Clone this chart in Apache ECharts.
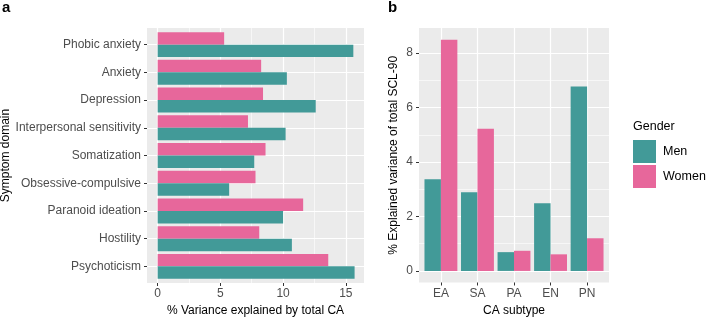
<!DOCTYPE html>
<html>
<head>
<meta charset="utf-8">
<script src="https://cdn.jsdelivr.net/npm/echarts@6/dist/echarts.min.js"></script>
<style>
  html, body { margin: 0; padding: 0; background: #fff; }
  #main { width: 708px; height: 317px; }
</style>
</head>
<body>
<div id="main"></div>
<script>
// panel a: symptom domains
var domains = ['Phobic anxiety', 'Anxiety', 'Depression', 'Interpersonal sensitivity', 'Somatization',
    'Obsessive-compulsive', 'Paranoid ideation', 'Hostility', 'Psychoticism'];
var menA = [15.6, 10.3, 12.6, 10.2, 7.7, 5.7, 10.0, 10.7, 15.7];
var womenA = [5.3, 8.25, 8.4, 7.2, 8.6, 7.8, 11.6, 8.1, 13.6];
var ticksA = [0, 5, 10, 15];
var minorA = [2.5, 7.5, 12.5];

// panel b: CA subtypes
var subtypes = ['EA', 'SA', 'PA', 'EN', 'PN'];
var menB = [3.37, 2.89, 0.69, 2.49, 6.78];
var womenB = [8.49, 5.22, 0.74, 0.61, 1.2];
var ticksB = [0, 2, 4, 6, 8];
var minorB = [1, 3, 5, 7];

var MEN = '#429A98', WOMEN = '#E7679B';
var FONT = 'Liberation Sans, Arial, sans-serif';

var myChart = echarts.init(document.getElementById('main'));

var domainIdx = domains.map(function (d, i) { return i; });
var subtypeIdx = subtypes.map(function (d, i) { return i; });

var nameStyle = { color: '#000', fontSize: 12, fontFamily: FONT };
var major = { show: true, lineStyle: { color: '#fff', width: 1.2 } };
var minor = { show: true, lineStyle: { color: '#fff', width: 0.6 } };
var noLine = { show: false, onZero: false };

// panel a extents (ggplot-like padding)
var xMinA = -0.85, xMaxA = 16.45;
// panel b extents
var yMinB = -0.425, yMaxB = 8.925;

var option = {
    animation: false,
    textStyle: { fontFamily: FONT },
    title: [
        { text: 'a', left: 2, top: 0, padding: 0, textStyle: { fontSize: 15, fontWeight: 'bold', color: '#000', fontFamily: FONT } },
        { text: 'b', left: 388, top: 0, padding: 0, textStyle: { fontSize: 15, fontWeight: 'bold', color: '#000', fontFamily: FONT } },
        { text: 'Gender', left: 633, top: 120, padding: 0, textStyle: { fontSize: 12.5, fontWeight: 'normal', color: '#000', fontFamily: FONT } }
    ],
    legend: {
        data: ['Men', 'Women'],
        orient: 'vertical',
        left: 633,
        top: 140,
        padding: 0,
        itemWidth: 23,
        itemHeight: 23,
        itemGap: 2,
        icon: 'rect',
        textStyle: { fontSize: 12.5, color: '#000', fontFamily: FONT, padding: [0, 0, 0, 2] }
    },
    grid: [
        // 0: panel a background / axes
        { left: 147, top: 28, width: 217, height: 255, show: true, backgroundColor: '#EBEBEB', borderWidth: 0, outerBoundsMode: 'none' },
        // 1: panel a bars (inset by 0.1 category unit)
        { left: 147, top: 30.77, width: 217, height: 249.46, outerBoundsMode: 'none' },
        // 2: panel b background / axes
        { left: 419, top: 28, width: 190, height: 254.5, show: true, backgroundColor: '#EBEBEB', borderWidth: 0, outerBoundsMode: 'none' },
        // 3: panel b bars
        { left: 422.65, top: 28, width: 182.7, height: 254.5, outerBoundsMode: 'none' }
    ],
    xAxis: [
        { // 0 panel a value axis with labels
            type: 'value', gridIndex: 0, min: xMinA, max: xMaxA,
            axisLine: noLine,
            axisTick: { show: true, length: 3, lineStyle: { color: '#333' }, customValues: ticksA },
            axisLabel: { color: '#4D4D4D', fontSize: 12, fontFamily: FONT, margin: 5, customValues: ticksA },
            splitLine: major,
            name: '% Variance explained by total CA', nameLocation: 'middle', nameGap: 19, nameTextStyle: nameStyle
        },
        { // 1 panel a minor grid
            type: 'value', gridIndex: 0, min: xMinA, max: xMaxA, position: 'top',
            axisLine: noLine,
            axisTick: { show: false, customValues: minorA },
            axisLabel: { show: false, customValues: minorA },
            splitLine: minor
        },
        { // 2 panel a bars value axis
            type: 'value', gridIndex: 1, min: xMinA, max: xMaxA, show: false, splitLine: { show: false }
        },
        { // 3 panel b category positions (value axis for labels and grid)
            type: 'value', gridIndex: 2, min: -0.6, max: subtypes.length - 0.4,
            axisLine: noLine,
            axisTick: { show: true, length: 3, lineStyle: { color: '#333' }, customValues: subtypeIdx },
            axisLabel: {
                color: '#4D4D4D', fontSize: 12, fontFamily: FONT, margin: 5, customValues: subtypeIdx,
                formatter: function (v) { return subtypes[Math.round(v)] || ''; }
            },
            splitLine: major,
            name: 'CA subtype', nameLocation: 'middle', nameGap: 21, nameTextStyle: nameStyle
        },
        { // 4 panel b bars category axis
            type: 'category', gridIndex: 3, data: subtypes, show: false
        }
    ],
    yAxis: [
        { // 0 panel a categories (value axis for labels and grid)
            type: 'value', gridIndex: 0, inverse: true, min: -0.6, max: domains.length - 0.4,
            axisLine: noLine,
            axisTick: { show: true, length: 3, lineStyle: { color: '#333' }, customValues: domainIdx },
            axisLabel: {
                color: '#4D4D4D', fontSize: 12, fontFamily: FONT, margin: 6, customValues: domainIdx,
                formatter: function (v) { return domains[Math.round(v)] || ''; }
            },
            splitLine: major,
            name: 'Symptom domain', nameLocation: 'middle', nameGap: 131, nameTextStyle: nameStyle
        },
        { // 1 panel a bars category axis
            type: 'category', gridIndex: 1, data: domains, inverse: true, show: false
        },
        { // 2 panel b value axis with labels
            type: 'value', gridIndex: 2, min: yMinB, max: yMaxB,
            axisLine: noLine,
            axisTick: { show: true, length: 3, lineStyle: { color: '#333' }, customValues: ticksB },
            axisLabel: { color: '#4D4D4D', fontSize: 12, fontFamily: FONT, margin: 6, customValues: ticksB },
            splitLine: major,
            name: '% Explained variance of total SCL-90', nameLocation: 'middle', nameGap: 19, nameTextStyle: nameStyle
        },
        { // 3 panel b minor grid
            type: 'value', gridIndex: 2, min: yMinB, max: yMaxB, position: 'right',
            axisLine: noLine,
            axisTick: { show: false, customValues: minorB },
            axisLabel: { show: false, customValues: minorB },
            splitLine: minor
        },
        { // 4 panel b bars value axis
            type: 'value', gridIndex: 3, min: yMinB, max: yMaxB, show: false, splitLine: { show: false }
        }
    ],
    series: [
        // women first so that they sit above men in each row
        {
            name: 'Women', type: 'bar', xAxisIndex: 2, yAxisIndex: 1, data: womenA,
            itemStyle: { color: WOMEN }, barGap: '0%', barCategoryGap: '10%'
        },
        {
            name: 'Men', type: 'bar', xAxisIndex: 2, yAxisIndex: 1, data: menA,
            itemStyle: { color: MEN }, barGap: '0%', barCategoryGap: '10%'
        },
        {
            name: 'Men', type: 'bar', xAxisIndex: 4, yAxisIndex: 4, data: menB,
            itemStyle: { color: MEN }, barGap: '0%', barCategoryGap: '10%'
        },
        {
            name: 'Women', type: 'bar', xAxisIndex: 4, yAxisIndex: 4, data: womenB,
            itemStyle: { color: WOMEN }, barGap: '0%', barCategoryGap: '10%'
        }
    ]
};

myChart.setOption(option);
window.addEventListener('resize', function () {
    myChart.resize();
});
</script>
</body>
</html>
